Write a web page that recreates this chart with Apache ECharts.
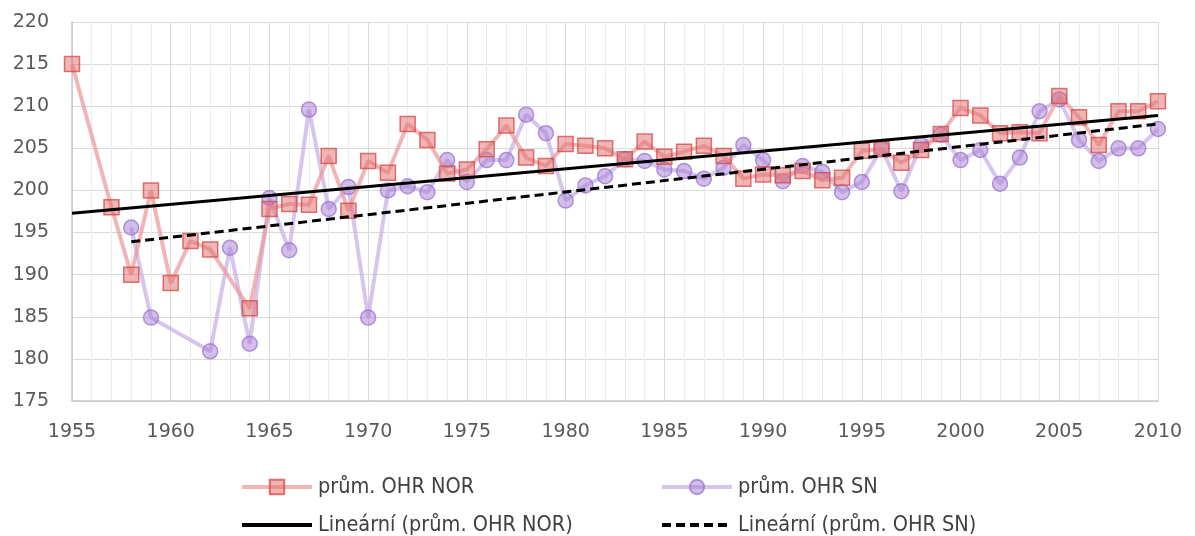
<!DOCTYPE html>
<html>
<head>
<meta charset="utf-8">
<script src="https://cdn.jsdelivr.net/npm/echarts@6/dist/echarts.min.js"></script>
<style>
html, body { margin: 0; padding: 0; background: #fff; }
#chart { width: 1195px; height: 536px; }
</style>
</head>
<body>
<div id="chart"></div>
<script>
// prům. OHR NOR
var norYears = [1955, 1957, 1958, 1959, 1960, 1961, 1962, 1964, 1965, 1966, 1967, 1968, 1969, 1970,
	1971, 1972, 1973, 1974, 1975, 1976, 1977, 1978, 1979, 1980, 1981, 1982, 1983, 1984, 1985,
	1986, 1987, 1988, 1989, 1990, 1991, 1992, 1993, 1994, 1995, 1996, 1997, 1998, 1999, 2000,
	2001, 2002, 2003, 2004, 2005, 2006, 2007, 2008, 2009, 2010];
var norValues = [215.0, 198.0, 190.0, 200.0, 189.0, 194.0, 193.0, 186.0, 197.8, 198.4, 198.3, 204.1, 197.6, 203.5,
	202.1, 207.9, 206.0, 202.0, 202.5, 204.9, 207.7, 203.9, 202.9, 205.5, 205.3, 205.0, 203.7, 205.8, 204.0,
	204.6, 205.3, 204.1, 201.4, 201.9, 201.8, 202.3, 201.2, 201.5, 204.7, 204.9, 203.3, 204.8, 206.7, 209.8,
	208.9, 206.8, 206.9, 206.8, 211.2, 208.7, 205.4, 209.4, 209.4, 210.6];

// prům. OHR SN
var snYears = [1958, 1959, 1962, 1963, 1964, 1965, 1966, 1967, 1968, 1969, 1970,
	1971, 1972, 1973, 1974, 1975, 1976, 1977, 1978, 1979, 1980, 1981, 1982, 1983, 1984, 1985,
	1986, 1987, 1988, 1989, 1990, 1991, 1992, 1993, 1994, 1995, 1996, 1997, 1998, 1999, 2000,
	2001, 2002, 2003, 2004, 2005, 2006, 2007, 2008, 2009, 2010];
var snValues = [195.6, 184.9, 180.9, 193.2, 181.8, 199.1, 192.9, 209.6, 197.8, 200.4, 184.9,
	200.0, 200.5, 199.8, 203.6, 201.0, 203.6, 203.6, 209.0, 206.8, 198.8, 200.6, 201.7, 203.7, 203.5, 202.5,
	202.3, 201.4, 202.7, 205.4, 203.6, 201.1, 202.9, 202.2, 199.8, 201.0, 205.0, 199.9, 205.4, 206.6, 203.6,
	204.8, 200.8, 203.9, 209.4, 210.8, 206.0, 203.5, 205.0, 205.0, 207.3];

// trend lines (end points)
var trendNorYears = [1955, 2010];
var trendNorValues = [197.3, 208.9];
var trendSnYears = [1958, 2010];
var trendSnValues = [193.9, 207.9];

var names = ['prům. OHR NOR', 'prům. OHR SN', 'Lineární (prům. OHR NOR)', 'Lineární (prům. OHR SN)'];

function pairs(xs, ys) {
	return xs.map(function (x, i) { return [x, ys[i]]; });
}

var font = 'DejaVu Sans, sans-serif';
var legendText = { color: '#404040', fontSize: 21.5, fontFamily: 'DejaVu Sans Condensed, DejaVu Sans, sans-serif', padding: [0, 0, 0, 1] };
var legendBase = { itemWidth: 70, itemHeight: 18, itemGap: 0, padding: 0, textStyle: legendText, lineStyle: { width: 4 } };

var chart = echarts.init(document.getElementById('chart'));
chart.setOption({
	animation: false,
	grid: { left: 72, right: 37, top: 22, bottom: 135 },
	legend: [
		Object.assign({ left: 240, top: 476, data: [names[0]] }, legendBase),
		Object.assign({ left: 660, top: 476, data: [names[1]] }, legendBase),
		Object.assign({ left: 240, top: 514, data: [{ name: names[2], itemStyle: { opacity: 0 } }] }, legendBase),
		Object.assign({ left: 660, top: 514, data: [{ name: names[3], itemStyle: { opacity: 0 } }] }, legendBase)
	],
	xAxis: {
		type: 'value',
		min: 1955,
		max: 2010,
		interval: 5,
		axisLine: { show: true, lineStyle: { color: '#c8c8c8', width: 1.5 } },
		axisTick: { show: false },
		axisLabel: { color: '#595959', fontSize: 19, fontFamily: font, margin: 22, formatter: function (v) { return String(v); } },
		splitLine: { show: true, lineStyle: { color: '#d9d9d9', width: 1 } },
		minorTick: { show: false, splitNumber: 5 },
		minorSplitLine: { show: true, lineStyle: { color: '#ececec', width: 1 } }
	},
	yAxis: {
		type: 'value',
		min: 175,
		max: 220,
		interval: 5,
		axisLine: { show: true, lineStyle: { color: '#c8c8c8', width: 1.5 } },
		axisTick: { show: false },
		axisLabel: { color: '#595959', fontSize: 19, fontFamily: font, margin: 23 },
		splitLine: { show: true, lineStyle: { color: '#d9d9d9', width: 1 } }
	},
	series: [
		{
			name: names[0],
			type: 'line',
			data: pairs(norYears, norValues),
			symbol: 'rect',
			symbolSize: 15,
			z: 3,
			lineStyle: { color: 'rgba(236,150,150,0.7)', width: 4 },
			itemStyle: { color: 'rgba(226,110,110,0.5)', borderColor: 'rgba(214,70,70,0.75)', borderWidth: 1.5 }
		},
		{
			name: names[1],
			type: 'line',
			data: pairs(snYears, snValues),
			symbol: 'circle',
			symbolSize: 15,
			z: 2,
			lineStyle: { color: 'rgba(196,172,228,0.7)', width: 4 },
			itemStyle: { color: 'rgba(165,125,212,0.5)', borderColor: 'rgba(150,110,205,0.7)', borderWidth: 1.5 }
		},
		{
			name: names[2],
			type: 'line',
			data: pairs(trendNorYears, trendNorValues),
			symbol: 'none',
			z: 4,
			lineStyle: { color: '#000', width: 3 },
			itemStyle: { color: '#000' }
		},
		{
			name: names[3],
			type: 'line',
			data: pairs(trendSnYears, trendSnValues),
			symbol: 'none',
			z: 4,
			lineStyle: { color: '#000', width: 3, type: [9, 5] },
			itemStyle: { color: '#000' }
		}
	]
});
</script>
</body>
</html>
